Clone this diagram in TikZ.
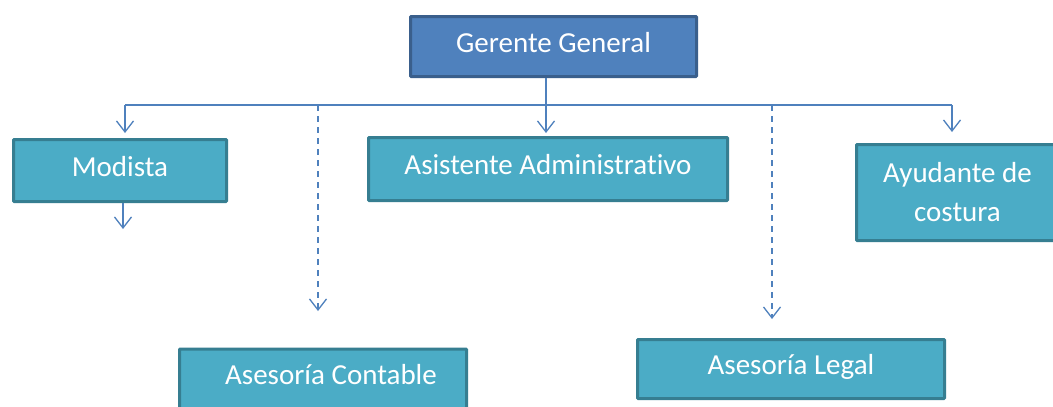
\documentclass[tikz,border=0pt]{standalone}
\usepackage{fontspec}
\setmainfont{Carlito}[Ligatures=NoCommon]
\usetikzlibrary{arrows.meta}
\definecolor{linkblue}{HTML}{4F81BD}
\definecolor{headfill}{HTML}{4F81BD}
\definecolor{headedge}{HTML}{3A5F8C}
\definecolor{unitfill}{HTML}{4BACC6}
\definecolor{unitedge}{HTML}{367E91}
\tikzset{
  boxbase/.style={rectangle, line width=3pt, text=white, align=center,
    font=\fontsize{29}{39}\selectfont, inner sep=0pt, rounded corners=0.8pt},
  oneline/.style={text height=19pt, text depth=8pt},
  headbox/.style={boxbase, oneline, fill=headfill, draw=headedge},
  unitbox/.style={boxbase, oneline, fill=unitfill, draw=unitedge},
  unitboxtwo/.style={boxbase, fill=unitfill, draw=unitedge},
  link/.style={draw=linkblue, line width=1.3pt},
  linkarrow/.style={link, -{Straight Barb[length=11pt,width=17pt,line width=1.3pt]}},
  advisory/.style={linkarrow, dash pattern=on 6pt off 5pt}
}
\begin{document}
\begin{tikzpicture}[x=1pt,y=-1pt]
  \useasboundingbox (0,0) rectangle (1053,407);
  \fill[white] (0,0) rectangle (1053,407);

  % boxes
  \node[headbox, minimum width=286pt, minimum height=60pt] (gg) at (553.5,46.5) {Gerente General};
  \node[unitbox, minimum width=213pt, minimum height=62pt] (mod) at (120,170.5) {Modista};
  \node[unitbox, minimum width=359pt, minimum height=63pt] (asis) at (548,169) {Asistente Administrativo};
  \node[unitboxtwo, minimum width=202pt, minimum height=96pt] (ayu) at (957.5,192.5) {Ayudante de\\costura};
  \node[unitbox, minimum width=287pt, minimum height=60pt] (cont) at (323,379) {\hspace*{16pt}Asesoría Contable};
  \node[unitbox, minimum width=307pt, minimum height=59pt] (legal) at (791,369) {Asesoría Legal};

  % bus points
  \coordinate (bus) at (546,105);
  \coordinate (busL) at (125,105);
  \coordinate (busR) at (952,105);
  \coordinate (busC) at (318,105);
  \coordinate (busLg) at (772,105);
  \coordinate (contEnd) at (318,311);
  \coordinate (legalEnd) at (772,319);
  \coordinate (modEnd) at (123,229);

  % solid connectors
  \draw[link] (bus |- gg.south) -- (bus);
  \draw[link] (busL) -- (busR);
  \draw[linkarrow, shorten >=3pt] (bus) -- (bus |- asis.north);
  \draw[linkarrow, shorten >=5pt] (busL) -- (busL |- mod.north);
  \draw[linkarrow, shorten >=11pt] (busR) -- (busR |- ayu.north);
  \draw[linkarrow] (modEnd |- mod.south) -- (modEnd);

  % dashed advisory connectors
  \draw[advisory] (busC) -- (contEnd);
  \draw[advisory] (busLg) -- (legalEnd);
\end{tikzpicture}
\end{document}
